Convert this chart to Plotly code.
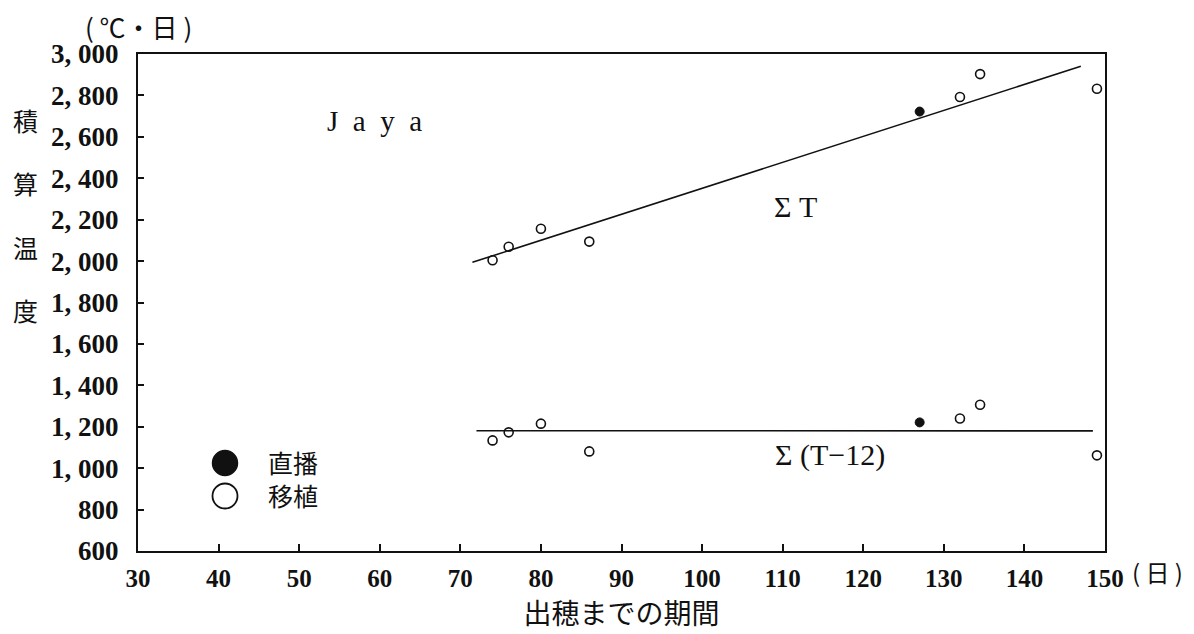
import plotly.graph_objects as go

# --- data -------------------------------------------------------------
# days to heading (x) and accumulated temperature (°C·day)
days_transplant = [74, 76, 80, 86, 132, 134.5, 149]
sum_t_transplant = [2004, 2069, 2156, 2094, 2792, 2903, 2832]
sum_t12_transplant = [1134, 1173, 1215, 1081, 1240, 1306, 1062]

days_direct = [127]
sum_t_direct = [2722]
sum_t12_direct = [1221]

# fitted lines
fit_days_t = [71.5, 147]
fit_sum_t = [1994, 2941]
fit_days_t12 = [72, 148.5]
fit_sum_t12 = [1181, 1180]

x_ticks = [30, 40, 50, 60, 70, 80, 90, 100, 110, 120, 130, 140, 150]
y_ticks = [600, 800, 1000, 1200, 1400, 1600, 1800, 2000, 2200, 2400, 2600, 2800, 3000]
y_tick_text = ["600", "800", "1, 000", "1, 200", "1, 400", "1, 600", "1, 800",
               "2, 000", "2, 200", "2, 400", "2, 600", "2, 800", "3, 000"]

# --- layout geometry (pixels) -----------------------------------------
W, H = 1194, 634
L, R, T, B = 138, 1105, 54, 551


def px(x):
    return (x - L) / (R - L)


def py(y):
    return (B - y) / (B - T)


SERIF = "Liberation Serif"
CJK = "Noto Sans CJK JP"
BLACK = "#111111"
NB = "\u00a0"

fig = go.Figure()

line_style = dict(color=BLACK, width=1.6)
fig.add_trace(go.Scatter(x=fit_days_t, y=fit_sum_t, mode="lines", line=line_style,
                         showlegend=False, hoverinfo="skip"))
fig.add_trace(go.Scatter(x=fit_days_t12, y=fit_sum_t12, mode="lines", line=line_style,
                         showlegend=False, hoverinfo="skip"))

open_marker = dict(symbol="circle-open", size=9, color=BLACK, line=dict(width=1.6, color=BLACK))
filled_marker = dict(symbol="circle", size=9, color=BLACK, line=dict(width=1, color=BLACK))

fig.add_trace(go.Scatter(x=days_transplant, y=sum_t_transplant, mode="markers",
                         marker=open_marker, showlegend=False))
fig.add_trace(go.Scatter(x=days_transplant, y=sum_t12_transplant, mode="markers",
                         marker=open_marker, showlegend=False))
fig.add_trace(go.Scatter(x=days_direct, y=sum_t_direct, mode="markers",
                         marker=filled_marker, showlegend=False))
fig.add_trace(go.Scatter(x=days_direct, y=sum_t12_direct, mode="markers",
                         marker=filled_marker, showlegend=False))

annotations = []


def label(text, x, y, size, family=SERIF, xanchor="center", yanchor="middle"):
    annotations.append(dict(text=text, x=px(x), y=py(y), xref="paper", yref="paper",
                            xanchor=xanchor, yanchor=yanchor, showarrow=False,
                            align="left",
                            font=dict(family=family, size=size, color=BLACK)))


# unit and vertical axis caption
label("(" + NB + "℃・日" + NB + ")", 138, 26, 26, family=CJK)
for ch, yy in zip(["積", "算", "温", "度"], [120, 183, 247, 310]):
    label(ch, 25, yy, 25, family=CJK)

# in-plot labels
label("J" + NB * 2 + "a" + NB * 2 + "y" + NB * 2 + "a", 374, 121, 29)
label("Σ T", 795, 206, 30)
label("Σ (T−12)", 830, 455, 30)

# key
label("直播<br>移植", 266, 479, 25, family=CJK, xanchor="left")

# unit after last x tick
label("(" + NB + "日" + NB + ")", 1130, 571, 24, family=CJK, xanchor="left")

shapes = [
    dict(type="circle", xref="paper", yref="paper",
         x0=px(212.5), x1=px(237.5), y0=py(475.5), y1=py(450.5),
         fillcolor=BLACK, line=dict(color=BLACK, width=1.5)),
    dict(type="circle", xref="paper", yref="paper",
         x0=px(212.5), x1=px(237.5), y0=py(508.5), y1=py(483.5),
         fillcolor="white", line=dict(color=BLACK, width=1.8)),
]

x_tick_font = dict(family=SERIF, size=25, color=BLACK, weight="bold")
y_tick_font = dict(family=SERIF, size=27, color=BLACK, weight="bold")

fig.update_layout(
    width=W, height=H,
    margin=dict(l=L, r=W - R, t=T, b=H - B, pad=0),
    paper_bgcolor="white", plot_bgcolor="white",
    annotations=annotations, shapes=shapes,
    xaxis=dict(
        range=[30, 150], tickvals=x_ticks, ticktext=[str(v) for v in x_ticks],
        ticks="inside", ticklen=7, tickwidth=1.5, tickcolor=BLACK,
        showline=True, linecolor=BLACK, linewidth=2, mirror=True,
        showgrid=False, zeroline=False, tickfont=x_tick_font, ticklabelstandoff=4,
        title=dict(text="出穂までの期間", font=dict(family=CJK, size=28, color=BLACK),
                   standoff=0),
    ),
    yaxis=dict(
        range=[600, 3000], tickvals=y_ticks, ticktext=y_tick_text,
        ticks="inside", ticklen=6, tickwidth=1.5, tickcolor=BLACK,
        showline=True, linecolor=BLACK, linewidth=2, mirror=True,
        showgrid=False, zeroline=False, tickfont=y_tick_font, ticklabelstandoff=12,
    ),
)

fig.write_html("out.html")
